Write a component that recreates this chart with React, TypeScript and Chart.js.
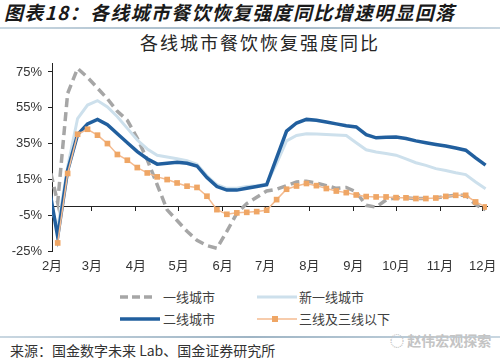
import { useEffect, useRef } from 'react';
import { Chart, registerables } from 'chart.js';

Chart.register(...registerables);

// weekly observation dates (2020), first one lies just left of the axis start
const dates = [
  '01-30', '02-06', '02-13', '02-20', '02-27', '03-05', '03-12', '03-19', '03-26',
  '04-02', '04-09', '04-16', '04-23', '04-30', '05-07', '05-14', '05-21', '05-28',
  '06-04', '06-11', '06-18', '06-25', '07-02', '07-09', '07-16', '07-23', '07-30',
  '08-06', '08-13', '08-20', '08-27', '09-03', '09-10', '09-17', '09-24',
  '10-01', '10-08', '10-15', '10-22', '10-29', '11-05', '11-12', '11-19', '11-26', '12-03',
];

const tier1 = [
  26, 2, 63, 77, 72, 66, 60, 53, 48, 38, 26, 12, -2, -8, -14, -19, -22, -23.5,
  -14, -4, 1.5, 5, 8.5, 9.5, 11.5, 13.5, 14, 13, 11.5, 10, 10.5, 8, 0.5, -0.5, 3.5,
  4.8, 4.7, 4.3, 4.3, 4.6, 5.5, 6.1, 6.1, 1, -2,
];

const newTier1 = [
  5, -12, 22, 49, 56.5, 59, 55.5, 50, 43.5, 37, 32, 28.5, 27.5, 26.5, 25.5, 23.5, 17, 12,
  10, 10, 11, 11.5, 12.5, 24, 36.5, 39.5, 40.5, 40.3, 40, 39.8, 39.5, 35.5, 31.5, 30.3, 29.5,
  28.5, 26.5, 24.3, 22.8, 21, 20, 18.7, 17.7, 13.5, 9.8,
];

const tier2 = [
  15, -17, 20, 40, 46, 48.5, 45.5, 40.5, 35.5, 30.5, 26.5, 23.5, 24, 24.5, 24, 22.5, 16, 11,
  9, 9, 10, 11, 12, 27, 42, 46.5, 48.5, 48, 47, 46, 45, 44.3, 40, 38.2, 38.5,
  38.6, 37.8, 36.5, 35.5, 34.5, 33.6, 32.5, 31.3, 27, 23,
];

const tier3 = [
  null, -20.5, 18.3, 40.2, 43, 39.7, 35, 28.9, 25.7, 21.6, 18.6, 16.4, 14.9, 13, 11.2, 10.5, 5.6, -1.9,
  -4.5, -3.7, -3.4, -3, -2.2, 3.7, 9.5, 11.3, 12.7, 11.5, 9.9, 8.5, 7.6, 6.3, 5.4, 5.2, 5.2,
  4.8, 4.7, 4.3, 4.3, 4.6, 5.5, 6.1, 6.1, 2.4, -0.4,
];

const seriesNames = ['一线城市', '新一线城市', '二线城市', '三线及三线以下'];

const monthTickDates = ['02-02', '03-01', '04-01', '05-01', '06-01', '07-01', '08-01', '09-01', '10-01', '11-01', '12-01'];
const monthLabels = ['2月', '3月', '4月', '5月', '6月', '7月', '8月', '9月', '10月', '11月', '12月'];
const xMinDate = '02-02';
const xMaxDate = '12-04';

const yTicks = [-25, -5, 15, 35, 55, 75];
const yMin = -25;
const yMax = 80;

const headerText = '图表18：各线城市餐饮恢复强度同比增速明显回落';
const chartTitle = '各线城市餐饮恢复强度同比';
const sourceText = '来源：国金数字未来 Lab、国金证券研究所';
const watermark = '赵伟宏观探索';

const COLORS = {
  tier1: '#a6a6a6',
  newTier1: '#cde0ec',
  tier2: '#215f9e',
  tier3Line: '#f4bb90',
  tier3Point: '#efa665',
};

function dayOfYear(md: string): number {
  const [m, d] = md.split('-').map(Number);
  return (Date.UTC(2020, m - 1, d) - Date.UTC(2020, 0, 1)) / 86400000 + 1;
}

function toPoints(values: (number | null)[]) {
  return values.map((v, i) => ({ x: dayOfYear(dates[i]), y: v }));
}

const FONT = "'Liberation Sans', 'Noto Sans CJK SC', sans-serif";
const CJK = "'Noto Sans CJK SC', sans-serif";

export default function App() {
  const canvasRef = useRef<HTMLCanvasElement | null>(null);

  useEffect(() => {
    if (!canvasRef.current) return;
    const xMin = dayOfYear(xMinDate);
    const xMax = dayOfYear(xMaxDate);
    const chart = new Chart(canvasRef.current, {
      type: 'line',
      data: {
        datasets: [
          {
            label: seriesNames[3],
            data: toPoints(tier3) as any,
            borderColor: COLORS.tier3Line,
            borderWidth: 1.5,
            pointStyle: 'rect',
            pointRadius: 4,
            pointBorderWidth: 0,
            pointBackgroundColor: COLORS.tier3Point,
            xAxisID: 'x',
            yAxisID: 'y',
            clip: 0,
            order: 0,
          },
          {
            label: seriesNames[2],
            data: toPoints(tier2) as any,
            borderColor: COLORS.tier2,
            borderWidth: 3.5,
            pointRadius: 0,
            xAxisID: 'x',
            yAxisID: 'y',
            clip: 0,
            order: 1,
          },
          {
            label: seriesNames[1],
            data: toPoints(newTier1) as any,
            borderColor: COLORS.newTier1,
            borderWidth: 3,
            pointRadius: 0,
            xAxisID: 'x',
            yAxisID: 'y',
            clip: 0,
            order: 2,
          },
          {
            label: seriesNames[0],
            data: toPoints(tier1) as any,
            borderColor: COLORS.tier1,
            borderWidth: 3.5,
            borderDash: [9, 5],
            pointRadius: 0,
            xAxisID: 'x',
            yAxisID: 'y',
            clip: 0,
            order: 3,
          },
        ],
      },
      options: {
        animation: false,
        responsive: false,
        devicePixelRatio: 1,
        layout: { padding: { top: 8, right: 13, left: 0, bottom: 0 } },
        plugins: {
          legend: { display: false },
          tooltip: { enabled: false },
          title: { display: false },
        },
        events: [],
        scales: {
          x: {
            type: 'linear',
            position: 'bottom',
            min: xMin,
            max: xMax,
            afterBuildTicks: (s: any) => {
              s.ticks = monthTickDates.map((d) => ({ value: dayOfYear(d) }));
            },
            afterFit: (s: any) => {
              s.height = 29;
              s.paddingLeft = 0;
              s.paddingRight = 0;
            },
            grid: { display: false, drawTicks: false },
            border: { display: false },
            ticks: {
              autoSkip: false,
              maxRotation: 0,
              padding: 8,
              color: '#333',
              font: { family: FONT, size: 13 },
              callback: (_v: any, i: number) => monthLabels[i],
            },
          },
          xz: {
            type: 'linear',
            axis: 'x',
            position: { y: 0 } as any,
            min: xMin,
            max: xMax,
            afterBuildTicks: (s: any) => {
              s.ticks = monthTickDates.slice(1).map((d) => ({ value: dayOfYear(d) }));
            },
            afterFit: (s: any) => {
              s.paddingLeft = 0;
              s.paddingRight = 0;
              s.paddingTop = 0;
              s.paddingBottom = 0;
            },
            grid: { drawOnChartArea: false, drawTicks: true, tickLength: 4, color: '#222', lineWidth: 1 },
            border: { display: true, color: '#222', width: 1 },
            ticks: { display: false },
          },
          y: {
            type: 'linear',
            position: 'left',
            min: yMin,
            max: yMax,
            afterBuildTicks: (s: any) => {
              s.ticks = yTicks.map((v) => ({ value: v }));
            },
            afterFit: (s: any) => {
              s.width = 52;
              s.paddingTop = 0;
              s.paddingBottom = 0;
            },
            grid: { drawOnChartArea: false, drawTicks: true, tickLength: 4, color: '#222', lineWidth: 1 },
            border: { display: true, color: '#222', width: 1 },
            ticks: {
              padding: 6,
              color: '#333',
              font: { family: FONT, size: 13 },
              callback: (v: any) => `${v}%`,
            },
          },
        },
      } as any,
    });
    return () => chart.destroy();
  }, []);

  const abs = (o: any) => ({ position: 'absolute' as const, whiteSpace: 'nowrap' as const, ...o });
  const legendText = { fontFamily: CJK, fontSize: 13, lineHeight: '16px', color: '#404040' };

  return (
    <div style={abs({ left: 0, top: 0, width: 500, height: 362, background: '#fff', overflow: 'hidden' })}>
      <div
        style={abs({
          left: 4,
          top: 0,
          fontFamily: CJK,
          fontSize: 19,
          lineHeight: '24px',
          fontWeight: 700,
          fontStyle: 'italic',
          letterSpacing: '1.3px',
          color: '#1a1a1a',
        })}
      >
        {headerText}
      </div>
      <div
        style={abs({
          left: 0,
          top: 27,
          width: 500,
          height: 2,
          background: 'linear-gradient(to right, #c9d7e1, #9fb5c5 50%, #c9d7e1)',
        })}
      />
      <div
        style={abs({
          left: 20,
          width: 480,
          top: 30,
          textAlign: 'center',
          fontFamily: CJK,
          fontSize: 18,
          lineHeight: '24px',
          letterSpacing: '2px',
          color: '#262626',
        })}
      >
        {chartTitle}
      </div>

      <canvas ref={canvasRef} width={500} height={225} style={abs({ left: 0, top: 55, width: 500, height: 225 })} />

      <svg width={500} height={50} style={abs({ left: 0, top: 282 })}>
        <line x1={120} y1={15} x2={154} y2={15} stroke={COLORS.tier1} strokeWidth={3.5} strokeDasharray="8 4" />
        <line x1={257} y1={15} x2={297} y2={15} stroke={COLORS.newTier1} strokeWidth={3} />
        <line x1={120} y1={37} x2={160} y2={37} stroke={COLORS.tier2} strokeWidth={3.5} />
        <line x1={257} y1={37} x2={297} y2={37} stroke={COLORS.tier3Line} strokeWidth={1.5} />
        <rect x={272} y={34} width={6} height={6} fill={COLORS.tier3Point} />
      </svg>
      <div style={abs({ left: 163, top: 289, ...legendText })}>{seriesNames[0]}</div>
      <div style={abs({ left: 299, top: 289, ...legendText })}>{seriesNames[1]}</div>
      <div style={abs({ left: 163, top: 311, ...legendText })}>{seriesNames[2]}</div>
      <div style={abs({ left: 299, top: 311, ...legendText })}>{seriesNames[3]}</div>

      <div
        style={abs({
          left: 0,
          top: 336,
          width: 500,
          height: 1.5,
          background: 'linear-gradient(to right, #c9d7e1, #9fb5c5 50%, #c9d7e1)',
        })}
      />
      <div
        style={abs({
          left: 390,
          top: 331,
          fontFamily: CJK,
          fontSize: 14,
          lineHeight: '18px',
          color: '#c4c4c4',
          fontWeight: 700,
        })}
      >
        {'◌ ' + watermark}
      </div>
      <div
        style={abs({
          left: 10,
          top: 341,
          fontFamily: CJK,
          fontSize: 14,
          lineHeight: '18px',
          color: '#333',
        })}
      >
        {sourceText}
      </div>
    </div>
  );
}
